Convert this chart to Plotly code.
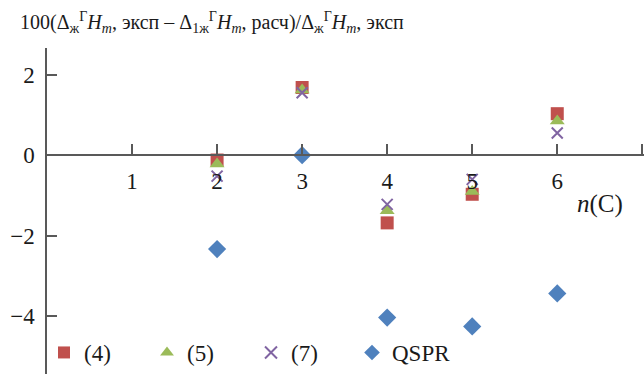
import plotly.graph_objects as go

n_carbon = [2, 3, 4, 5, 6]
dev_eq4 = [-0.12, 1.68, -1.68, -0.97, 1.03]
dev_eq5 = [-0.22, 1.62, -1.38, -0.90, 0.85]
dev_eq7 = [-0.52, 1.55, -1.22, -0.60, 0.55]
dev_qspr = [-2.33, 0.0, -4.03, -4.25, -3.43]

x_ticks = [1, 2, 3, 4, 5, 6, 7]
y_ticks = [2, 0, -2, -4]
y_range = [-5.43, 2.66]
x_range = [0, 7.02]

FONT = "Liberation Serif"
AX = "#595959"
TXT = "#1a1a1a"

W, H = 644, 374
ML, MT = 47, 48
PW = W - ML
PH = H - MT

fig = go.Figure()
series = [
    ("(4)", dev_eq4, "square", "#C0504D", 13, "legend", 44),
    ("(5)", dev_eq5, "triangle-up", "#9BBB59", 13, "legend2", 147),
    ("(7)", dev_eq7, "x-thin", "#8064A2", 11, "legend3", 251),
    ("QSPR", dev_qspr, "diamond", "#4F81BD", 14, "legend4", 352),
]
legend_cfg = {}
for name, vals, sym, col, sz, leg, lx in series:
    marker = dict(symbol=sym, color=col, size=sz)
    if sym == "x-thin":
        marker["line"] = dict(color=col, width=2)
    fig.add_trace(go.Scatter(x=n_carbon, y=vals, mode="markers", name=name,
                             marker=marker, cliponaxis=False, legend=leg))
    legend_cfg[leg] = dict(
        x=(lx - ML) / PW, y=0.0, xanchor="left", yanchor="bottom",
        font=dict(family=FONT, size=23, color=TXT),
        bgcolor="rgba(0,0,0,0)", itemsizing="constant", borderwidth=0,
    )

pos0 = (0 - y_range[0]) / (y_range[1] - y_range[0])

fig.update_layout(
    width=W, height=H,
    margin=dict(l=ML, r=0, t=MT, b=0, pad=0, autoexpand=False),
    paper_bgcolor="white", plot_bgcolor="white",
    font=dict(family=FONT, size=20, color=TXT),
    title=dict(
        text="100(Δ<sub>ж</sub><sup>Г</sup><i>H<sub>m</sub></i>, эксп – Δ<sub>1ж</sub><sup>Г</sup><i>H<sub>m</sub></i>, расч)/Δ<sub>ж</sub><sup>Г</sup><i>H<sub>m</sub></i>, эксп",
        x=20 / W, xanchor="left", xref="container",
        y=1 - 22 / H, yanchor="middle", yref="container",
        font=dict(family=FONT, size=20, color=TXT),
    ),
    xaxis=dict(
        range=x_range, tickvals=x_ticks, ticktext=[str(v) for v in x_ticks],
        showgrid=False, zeroline=False, showline=True, linecolor=AX, linewidth=1.5,
        ticks="inside", ticklen=10, tickcolor=AX, tickwidth=1.5,
        anchor="free", position=pos0, ticklabelstandoff=5, automargin=False,
        tickfont=dict(family=FONT, size=23, color=TXT),
    ),
    yaxis=dict(
        range=y_range, tickvals=y_ticks, ticktext=["2", "0", "−2", "−4"],
        showgrid=False, zeroline=False, showline=True, linecolor=AX, linewidth=1.5,
        ticks="inside", ticklen=10, tickcolor=AX, tickwidth=1.5,
        ticklabelstandoff=6, automargin=False,
        tickfont=dict(family=FONT, size=23, color=TXT),
    ),
    showlegend=True,
    **legend_cfg,
)

fig.add_annotation(
    text="<i>n</i>(C)", x=6.5, y=-1.22, xref="x", yref="y",
    showarrow=False, font=dict(family=FONT, size=25, color=TXT),
)

fig.write_html("out.html", config={"displayModeBar": False},
               post_script="document.body.style.margin='0';document.body.style.overflow='hidden';")
